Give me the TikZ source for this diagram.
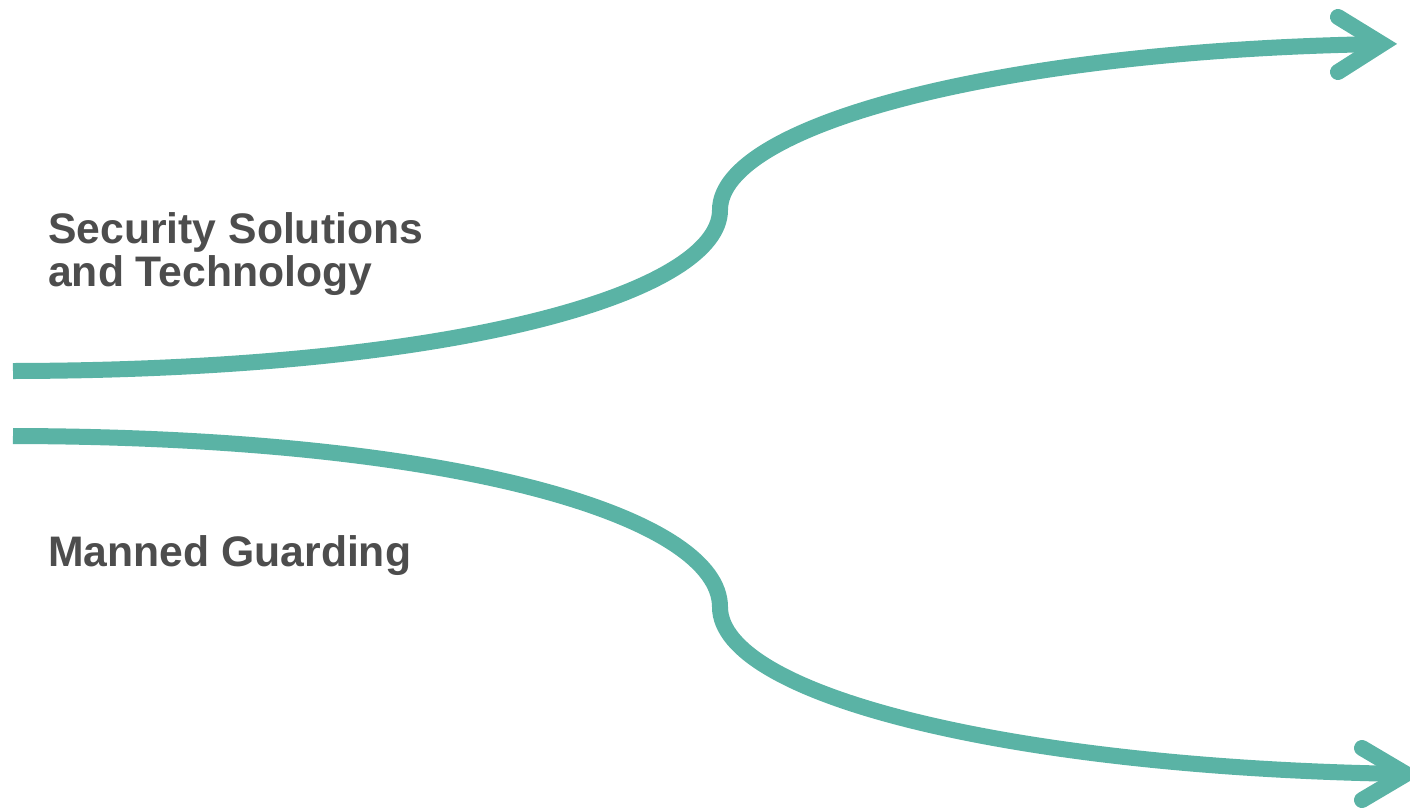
\documentclass[tikz,border=0pt]{standalone}
\usepackage{fontspec}
\setmainfont{Liberation Sans}
\definecolor{teal}{RGB}{90,179,165}
\definecolor{txt}{RGB}{77,77,77}
\begin{document}
\begin{tikzpicture}[x=1pt,y=-1pt,
  flow/.style={draw=teal,line width=16pt},
  head/.style={draw=teal,line width=16pt,line cap=round,line join=miter,miter limit=10},
  lbl/.style={anchor=base west,inner sep=0pt,text=txt,font=\fontsize{42.7}{42.5}\selectfont\bfseries,align=left}]
\useasboundingbox (0,0) rectangle (1410,809);
% upper
\coordinate (us) at (13,371);
\coordinate (um) at (720,210);
\coordinate (ue) at (1382,44);
\coordinate (ua1) at (1338,17);
\coordinate (ua2) at (1338,72);
\draw[flow] (us) .. controls (470,370) and (720,290) .. (um)
  .. controls (720,125) and (1000,50) .. (ue);
\draw[head] (ua1) -- (ue) -- (ua2);
% lower
\coordinate (ls) at (13,436);
\coordinate (lm) at (720,607);
\coordinate (le) at (1406,774);
\coordinate (la1) at (1362,748);
\coordinate (la2) at (1362,800);
\draw[flow] (ls) .. controls (470,437) and (720,520) .. (lm)
  .. controls (720,695) and (1010,768) .. (le);
\draw[head] (la1) -- (le) -- (la2);
% labels
\node[lbl] (t1) at (48,286) {Security Solutions\\and Technology};
\node[lbl] (t2) at (48,566) {Manned Guarding};
\end{tikzpicture}
\end{document}
